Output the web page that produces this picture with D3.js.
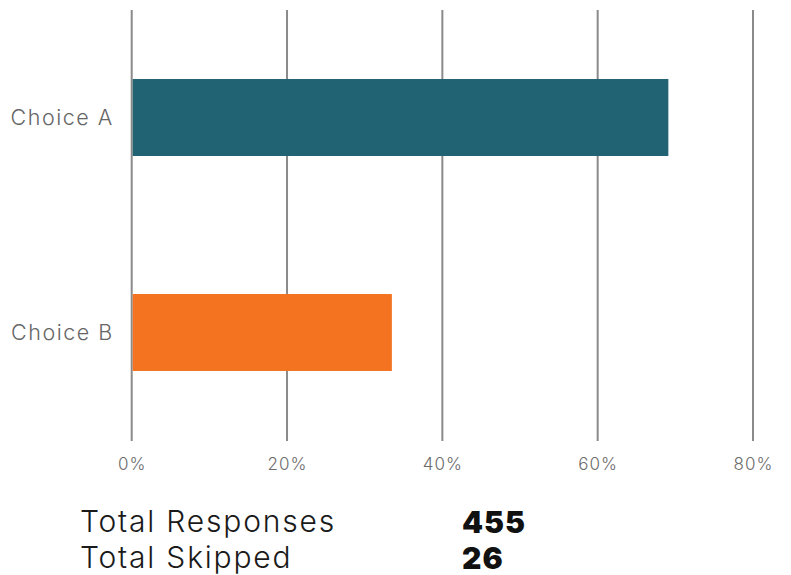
<!DOCTYPE html>
<html><head><meta charset="utf-8">
<script src="https://cdn.jsdelivr.net/npm/d3@7"></script>
<style>body{margin:0;background:#fff}svg{display:block}</style>
</head><body>
<script>
const categories = ["Choice A", "Choice B"];
const values = [69.1, 33.5];
const colors = ["#216372", "#F37321"];
const ticks = [0, 20, 40, 60, 80];
const summaryLabels = ["Total Responses", "Total Skipped"];
const summaryValues = ["455", "26"];

const W = 791, H = 575;
const svg = d3.select("body").append("svg").attr("width", W).attr("height", H);
const font = "Inter, 'Open Sans', sans-serif";

const x = d3.scaleLinear().domain([0, 80]).range([131.7, 753]);
const y = d3.scaleBand().domain(categories).range([10, 440]).paddingInner(0.642).paddingOuter(0.321);

// grid
svg.append("g").selectAll("line").data(ticks).join("line")
  .attr("x1", d => x(d)).attr("x2", d => x(d))
  .attr("y1", 10).attr("y2", 441)
  .attr("stroke", "#8a8a8a").attr("stroke-width", 2);

// bars
svg.append("g").selectAll("rect").data(categories).join("rect")
  .attr("x", x(0) + 1)
  .attr("y", d => y(d))
  .attr("width", (d, i) => x(values[i]) - x(0) - 1)
  .attr("height", y.bandwidth())
  .attr("fill", (d, i) => colors[i]);

// x axis
const xAxis = svg.append("g").attr("transform", "translate(0,441)")
  .call(d3.axisBottom(x).tickValues(ticks).tickFormat(d => d + "%").tickSize(0).tickPadding(17));
xAxis.select(".domain").remove();
xAxis.selectAll("text").attr("font-family", font).attr("font-size", 17).attr("font-weight", 300)
  .attr("letter-spacing", 1).attr("fill", "#6b6b6b");

// y axis
const yAxis = svg.append("g").attr("transform", `translate(${x(0)},0)`)
  .call(d3.axisLeft(y).tickSize(0).tickPadding(18));
yAxis.select(".domain").remove();
yAxis.selectAll("text").attr("font-family", font).attr("font-size", 21.5).attr("font-weight", 300)
  .attr("letter-spacing", 1.5).attr("dy", "0.36em").attr("fill", "#666");

// summary
const sg = svg.append("g");
summaryLabels.forEach((lab, i) => {
  sg.append("text").attr("x", 80).attr("y", 532 + i * 36.3)
    .attr("font-family", font).attr("font-size", 30).attr("font-weight", 300)
    .attr("letter-spacing", 1.8).attr("fill", "#1a1a1a").text(lab);
  sg.append("text").attr("x", 462).attr("y", 532.5 + i * 36.3)
    .attr("font-family", font).attr("font-size", 30).attr("font-weight", 900)
    .attr("letter-spacing", 1).attr("fill", "#111").text(summaryValues[i]);
});
</script>
</body></html>
